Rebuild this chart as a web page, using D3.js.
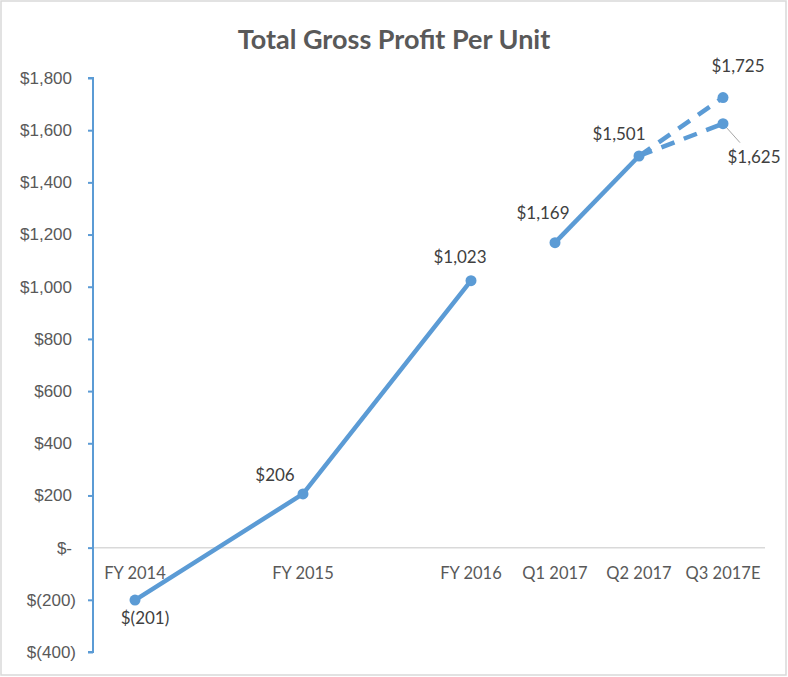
<!DOCTYPE html>
<html>
<head>
<meta charset="utf-8">
<script src="https://cdn.jsdelivr.net/npm/d3@7"></script>
<style>
  body { margin: 0; background: #fff; }
  svg { display: block; font-family: Lato, "Liberation Sans", sans-serif; }
</style>
</head>
<body>
<svg id="chart" width="788" height="677"></svg>
<script>
// data
var categories = ["FY 2014", "FY 2015", "FY 2016", "Q1 2017", "Q2 2017", "Q3 2017E"];
var slots = [0, 2, 4, 5, 6, 7]; // slot on the time-like category axis
var fyValues = [-201, 206, 1023];
var qtrValues = [1169, 1501];
var highEstimate = [1501, 1725];
var lowEstimate = [1501, 1625];
var yTicks = [-400, -200, 0, 200, 400, 600, 800, 1000, 1200, 1400, 1600, 1800];

var svg = d3.select("#chart"),
    margin = {top: 78, right: 23, bottom: 25, left: 93},
    width = +svg.attr("width") - margin.left - margin.right,
    height = +svg.attr("height") - margin.top - margin.bottom;

var blue = "#5B9BD5";

// outer frame
svg.append("rect")
    .attr("x", 1).attr("y", 1)
    .attr("width", 785).attr("height", 674)
    .attr("fill", "#fff")
    .attr("stroke", "#d9d9d9")
    .attr("stroke-width", 1.5);

svg.append("text")
    .attr("x", 394).attr("y", 38)
    .attr("text-anchor", "middle")
    .attr("dominant-baseline", "central")
    .style("font-size", "27px")
    .style("font-weight", "bold")
    .attr("fill", "#595959")
    .text("Total Gross Profit Per Unit");

var g = svg.append("g").attr("transform", "translate(" + margin.left + "," + margin.top + ")");

var x = d3.scaleLinear().domain([-0.5, 7.5]).range([0, width]),
    y = d3.scaleLinear().domain([-400, 1800]).range([height, 0]);

function money(v) {
  if (v === 0) return "$-";
  var s = d3.format(",")(Math.abs(v));
  return v < 0 ? "$(" + s + ")" : "$" + s;
}

// zero line
g.append("line")
    .attr("x1", 0).attr("x2", width)
    .attr("y1", y(0)).attr("y2", y(0))
    .attr("stroke", "#d9d9d9")
    .attr("stroke-width", 1.5);

// y axis
var yAxis = g.append("g")
    .attr("class", "axis axis--y")
    .call(d3.axisLeft(y).tickValues(yTicks).tickSize(5).tickPadding(16).tickFormat(money));
yAxis.selectAll("path, line").attr("stroke", blue).attr("stroke-width", 2);
yAxis.select(".domain").attr("d", "M-5," + y(1800) + "H0V" + y(-400) + "H-5");
yAxis.selectAll("text")
    .style("font-size", "17px")
    .attr("fill", "#595959")
    .attr("dx", function(d) { return d < 0 ? 4 : 0; });

// category labels
g.selectAll(".cat")
    .data(categories)
  .enter().append("text")
    .attr("class", "cat")
    .attr("x", function(d, i) { return x(slots[i]); })
    .attr("y", y(0) + 25)
    .attr("text-anchor", "middle")
    .attr("dominant-baseline", "central")
    .style("font-size", "16.5px")
    .attr("fill", "#595959")
    .text(function(d) { return d; });

var line = d3.line()
    .x(function(d) { return x(d.slot); })
    .y(function(d) { return y(d.value); });

function series(vals, start) {
  return vals.map(function(v, i) { return {slot: slots[start + i], value: v}; });
}

var lines = [
  {pts: series(fyValues, 0), dash: null},
  {pts: series(qtrValues, 3), dash: null},
  {pts: series(highEstimate, 4), dash: "14,10"},
  {pts: series(lowEstimate, 4), dash: "14,10"}
];

// leader line for the low estimate label
g.append("line")
    .attr("x1", x(slots[5])).attr("y1", y(lowEstimate[1]))
    .attr("x2", x(slots[5]) + 17).attr("y2", y(lowEstimate[1]) + 19)
    .attr("stroke", "#a6a6a6")
    .attr("stroke-width", 1);

g.selectAll(".line")
    .data(lines)
  .enter().append("path")
    .attr("class", "line")
    .attr("d", function(d) { return line(d.pts); })
    .attr("fill", "none")
    .attr("stroke", blue)
    .attr("stroke-width", 4.5)
    .attr("stroke-dasharray", function(d) { return d.dash; });

var points = [].concat(lines[0].pts, lines[1].pts, [lines[2].pts[1], lines[3].pts[1]]);
var labelOffsets = [[10, 17], [-28, -19], [-11, -24], [-12, -30], [-20, -23], [15, -32], [31, 33]];

g.selectAll(".dot")
    .data(points)
  .enter().append("circle")
    .attr("class", "dot")
    .attr("cx", function(d) { return x(d.slot); })
    .attr("cy", function(d) { return y(d.value); })
    .attr("r", 5.5)
    .attr("fill", blue);

g.selectAll(".lbl")
    .data(points)
  .enter().append("text")
    .attr("class", "lbl")
    .attr("x", function(d, i) { return x(d.slot) + labelOffsets[i][0]; })
    .attr("y", function(d, i) { return y(d.value) + labelOffsets[i][1]; })
    .attr("text-anchor", "middle")
    .attr("dominant-baseline", "central")
    .style("font-size", "17px")
    .attr("fill", "#404040")
    .text(function(d) { return money(d.value); });
</script>
</body>
</html>
